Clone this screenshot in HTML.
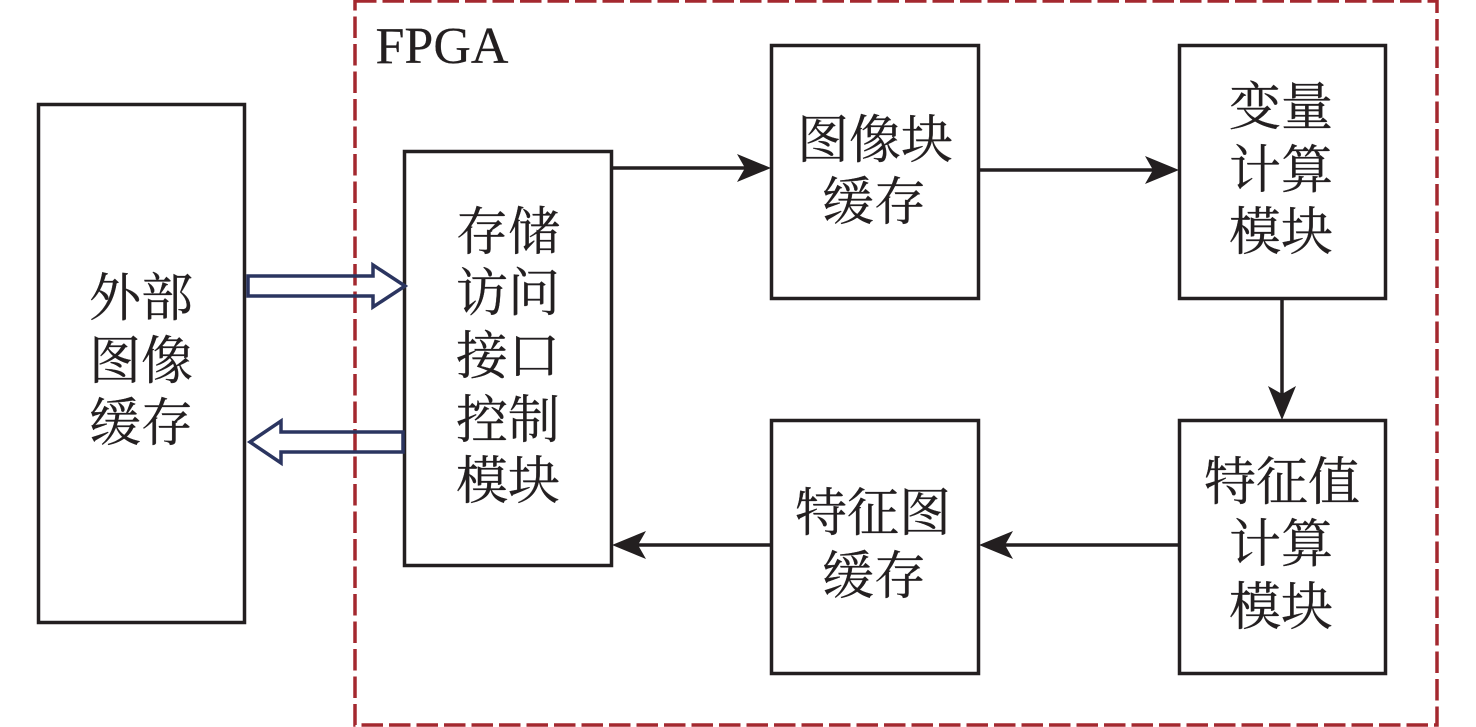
<!DOCTYPE html>
<html>
<head>
<meta charset="utf-8">
<style>
html,body{margin:0;padding:0;background:#fff;}
svg{display:block;}
text{font-family:"Liberation Serif","Noto Serif CJK SC",serif;fill:#231f20;stroke:#231f20;stroke-width:.3px;font-size:52px;text-anchor:middle;}
</style>
</head>
<body>
<svg width="1476" height="727" viewBox="0 0 1476 727" xmlns="http://www.w3.org/2000/svg">
<rect x="355" y="1" width="1082" height="724" fill="none" stroke="#a4282f" stroke-width="3.5" stroke-dasharray="21.5 6"/>
<g fill="none" stroke="#231f20" stroke-width="3.5">
<rect x="38.5" y="104.5" width="206" height="518"/>
<rect x="404.5" y="151.5" width="207" height="414"/>
<rect x="771.5" y="45.5" width="207" height="253"/>
<rect x="1179.5" y="45.5" width="206" height="253"/>
<rect x="771.5" y="420.5" width="207" height="253"/>
<rect x="1179.5" y="420.5" width="206" height="253"/>
<path d="M612 168H750M979 170H1158M1282 299V398M1180 545H1000M771 545H634"/>
</g>
<g fill="#231f20">
<path d="M771 168L737 154L745 168L737 182Z"/>
<path d="M1179 170L1145 156L1153 170L1145 184Z"/>
<path d="M1282 420L1268 386L1282 394L1296 386Z"/>
<path d="M979 545L1013 531L1005 545L1013 559Z"/>
<path d="M612 545L646 531L638 545L646 559Z"/>
</g>
<g fill="none" stroke="#2b3560" stroke-width="3.5">
<path d="M248 276H373V265L405 286L373 307V296H248Z"/>
<path d="M403 432H281V421L250 442L281 463V452H403Z"/>
</g>
<text x="442" y="63" style="font-size:52px;stroke-width:.2px">FPGA</text>
<text x="141" y="316">外部</text>
<text x="141" y="379">图像</text>
<text x="141" y="441">缓存</text>
<text x="508" y="250">存储</text>
<text x="508" y="311">访问</text>
<text x="508" y="374">接口</text>
<text x="508" y="438">控制</text>
<text x="508" y="499">模块</text>
<text x="875" y="158">图像块</text>
<text x="874" y="220">缓存</text>
<text x="1281" y="125">变量</text>
<text x="1281" y="188">计算</text>
<text x="1281" y="250">模块</text>
<text x="873" y="531">特征图</text>
<text x="874" y="594">缓存</text>
<text x="1282" y="500">特征值</text>
<text x="1281" y="562">计算</text>
<text x="1281" y="625">模块</text>
</svg>
</body>
</html>
